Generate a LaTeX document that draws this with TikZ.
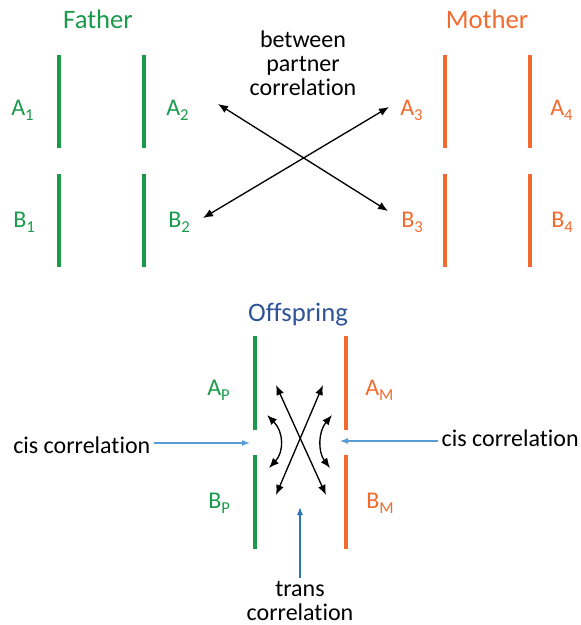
\documentclass[tikz,border=0pt]{standalone}
\usepackage{fontspec}
\setmainfont{Carlito}[Ligatures=NoCommon]
\usetikzlibrary{arrows.meta}
\definecolor{fgreen}{HTML}{1A9A4A}
\definecolor{morange}{HTML}{F26A2E}
\definecolor{offblue}{HTML}{2F5597}
\definecolor{ptrblue}{HTML}{5B9BD5}
\definecolor{transblue}{HTML}{2E75B6}
% letter with a lowered, smaller index
\newcommand{\chrsub}[2]{#1\raisebox{-0.22em}{\fontsize{12.5}{12.5}\selectfont #2}}
\begin{document}
\begin{tikzpicture}[x=0.75pt,y=-0.75pt,
  lbl/.style={font=\fontsize{18}{18}\selectfont, inner sep=0pt},
  title/.style={font=\fontsize{20}{20}\selectfont, inner sep=0pt},
  chrom/.style={line width=2.3pt},
  corr/.style={black, line width=1pt,
    {Latex[length=7.5pt,width=6pt]}-{Latex[length=7.5pt,width=6pt]}},
  pointer/.style={line width=0.8pt, -{Latex[length=6pt,width=4.5pt]}}]
\useasboundingbox (0,0) rectangle (581,625);

% ---- parents: titles
\node[title, fgreen, anchor=base] (father) at (98,28) {Father};
\node[title, morange, anchor=base] (mother) at (487,28) {Mother};

% ---- father chromosomes
\draw[chrom, fgreen] (59,55) -- (59,148);
\draw[chrom, fgreen] (59,174) -- (59,267);
\draw[chrom, fgreen] (144,55) -- (144,148);
\draw[chrom, fgreen] (144,174) -- (144,267);
% ---- mother chromosomes
\draw[chrom, morange] (445,55) -- (445,148);
\draw[chrom, morange] (445,174) -- (445,267);
\draw[chrom, morange] (530,55) -- (530,148);
\draw[chrom, morange] (530,174) -- (530,267);

% ---- parental loci
\node[lbl, fgreen, anchor=base west] (a1) at (11,115) {\chrsub{A}{1}};
\node[lbl, fgreen, anchor=base west] (b1) at (13,227) {\chrsub{B}{1}};
\node[lbl, fgreen, anchor=base west] (a2) at (166,115) {\chrsub{A}{2}};
\node[lbl, fgreen, anchor=base west] (b2) at (168,227) {\chrsub{B}{2}};
\node[lbl, morange, anchor=base west] (a3) at (400,115) {\chrsub{A}{3}};
\node[lbl, morange, anchor=base west] (b3) at (401,227) {\chrsub{B}{3}};
\node[lbl, morange, anchor=base west] (a4) at (550,115) {\chrsub{A}{4}};
\node[lbl, morange, anchor=base west] (b4) at (551,227) {\chrsub{B}{4}};

% ---- between partner correlation (base = last line)
\node[lbl, anchor=base, align=center, font=\fontsize{18}{18}\selectfont]
  (bpc) at (303,95) {between\\partner\\correlation};
\coordinate (pA2) at (218,104);
\coordinate (pB3) at (388,211);
\coordinate (pB2) at (203,218);
\coordinate (pA3) at (389,107);
\draw[corr] (pA2) -- (pB3);
\draw[corr] (pB2) -- (pA3);

% ---- offspring
\node[title, offblue, anchor=base] (offspring) at (298,321) {Offspring};
\draw[chrom, fgreen] (255,336) -- (255,430);
\draw[chrom, fgreen] (255,455) -- (255,549);
\draw[chrom, morange] (346,336) -- (346,430);
\draw[chrom, morange] (346,455) -- (346,549);

\node[lbl, fgreen, anchor=base west] (ap) at (207,395) {\chrsub{A}{P}};
\node[lbl, fgreen, anchor=base west] (bp) at (208,508) {\chrsub{B}{P}};
\node[lbl, morange, anchor=base west] (am) at (365,395) {\chrsub{A}{M}};
\node[lbl, morange, anchor=base west] (bm) at (366,508) {\chrsub{B}{M}};

% trans correlations (cross)
\coordinate (tAP) at (276,385);
\coordinate (tBM) at (326,495);
\coordinate (tAM) at (323,385);
\coordinate (tBP) at (276,495);
\draw[corr] (tAP) -- (tBM);
\draw[corr] (tAM) -- (tBP);
% cis correlations (curved)
\coordinate (cPa) at (267,415);
\coordinate (cPb) at (269,468);
\coordinate (cMa) at (332,415);
\coordinate (cMb) at (330,468);
\draw[corr] (cPa) .. controls (284,432) and (284,452) .. (cPb);
\draw[corr] (cMa) .. controls (318,432) and (318,452) .. (cMb);

% ---- annotations
\node[lbl, anchor=base west] (cisL) at (13,453) {cis correlation};
\node[lbl, anchor=base east] (cisR) at (579,446) {cis correlation};
\coordinate (cisLtip) at (250,443);
\coordinate (cisRtip) at (340,441);
\draw[pointer, ptrblue] (cisL.east |- cisLtip) ++(3,0) -- (cisLtip);
\draw[pointer, ptrblue] (cisR.west |- cisRtip) ++(-3,0) -- (cisRtip);

\node[lbl, anchor=base, align=center, font=\fontsize{18}{18}\selectfont]
  (transl) at (300,620) {trans\\correlation};
\coordinate (transtip) at (300,507);
\draw[pointer, transblue] (transl.north) ++(0,-3) -- (transtip);
\end{tikzpicture}
\end{document}
